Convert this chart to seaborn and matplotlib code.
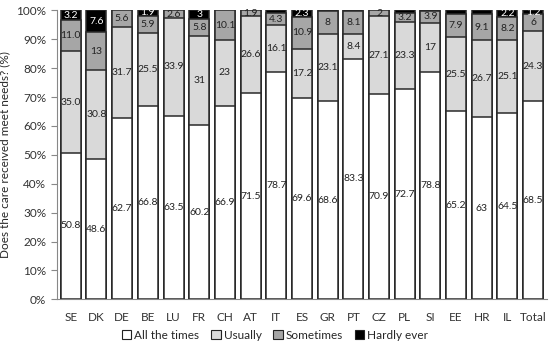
import numpy as np
import pandas as pd
import matplotlib
matplotlib.use("Agg")
import matplotlib.pyplot as plt
import seaborn as sns
from matplotlib.patches import Patch
from matplotlib.ticker import PercentFormatter

# data
countries = ['SE', 'DK', 'DE', 'BE', 'LU', 'FR', 'CH', 'AT', 'IT', 'ES',
             'GR', 'PT', 'CZ', 'PL', 'SI', 'EE', 'HR', 'IL', 'Total']
all_times = [50.8, 48.6, 62.7, 66.8, 63.5, 60.2, 66.9, 71.5, 78.7, 69.6,
             68.6, 83.3, 70.9, 72.7, 78.8, 65.2, 63, 64.5, 68.5]
usually = [35.0, 30.8, 31.7, 25.5, 33.9, 31, 23, 26.6, 16.1, 17.2,
           23.1, 8.4, 27.1, 23.3, 17, 25.5, 26.7, 25.1, 24.3]
sometimes = [11.0, 13, 5.6, 5.9, 2.6, 5.8, 10.1, 1.9, 4.3, 10.9,
             8, 8.1, 2, 3.2, 3.9, 7.9, 9.1, 8.2, 6]
hardly_ever = [3.2, 7.6, 0, 1.9, 0, 3, 0, 0, 0.9, 2.3,
               0.3, 0.2, 0, 0.8, 0.3, 1.4, 1.2, 2.2, 1.2]

# labels as printed (None = no label)
usually_lbl = ['35.0', '30.8', '31.7', '25.5', '33.9', '31', '23', '26.6', '16.1', '17.2',
               '23.1', '8.4', '27.1', '23.3', '17', '25.5', '26.7', '25.1', '24.3']
sometimes_lbl = ['11.0', '13', '5.6', '5.9', '2.6', '5.8', '10.1', '1.9', '4.3', '10.9',
                 '8', '8.1', '2', '3.2', '3.9', '7.9', '9.1', '8.2', '6']
hardly_lbl = ['3.2', '7.6', None, '1.9', None, '3', None, None, None, '2.3',
              None, None, None, None, None, None, None, '2.2', '1.2']

series = ['All the times', 'Usually', 'Sometimes', 'Hardly ever']
colors = ['white', '#d9d9d9', '#a6a6a6', 'black']

df = pd.DataFrame({'country': countries, 'All the times': all_times,
                   'Usually': usually, 'Sometimes': sometimes,
                   'Hardly ever': hardly_ever})
cum = df[series].cumsum(axis=1)

sns.set_style('white')
plt.rcParams['font.family'] = ['Lato', 'DejaVu Sans']

fig, ax = plt.subplots(figsize=(5.5, 3.48), dpi=100)

# stacked bars drawn as overlapping cumulative bars, top layer first
for s, c in zip(series[::-1], colors[::-1]):
    sns.barplot(x=df['country'], y=cum[s], color=c, edgecolor='#2a2a2a',
                linewidth=1.1, width=0.78, ax=ax, saturation=1)

# segment labels
lo = cum.shift(1, axis=1).fillna(0)
lbls = {'All the times': [f'{v:g}' for v in all_times], 'Usually': usually_lbl,
        'Sometimes': sometimes_lbl, 'Hardly ever': hardly_lbl}
for s in series:
    for i, t in enumerate(lbls[s]):
        if t is None:
            continue
        y = (lo.loc[i, s] + cum.loc[i, s]) / 2
        col = 'white' if s == 'Hardly ever' else '#222222'
        ax.text(i, y, t, ha='center', va='center', fontsize=7.5, color=col)

ax.set_ylim(0, 100)
ax.set_xlim(-0.55, len(countries) - 0.45)
ax.set_yticks(np.arange(0, 101, 10))
ax.yaxis.set_major_formatter(PercentFormatter(decimals=0))
ax.set_xlabel('')
ax.set_ylabel('Does the care received meet needs? (%)', fontsize=8.5)
ax.tick_params(axis='both', labelsize=8.5, colors='#333333')
ax.tick_params(axis='y', left=True, length=4, color='#888888')
ax.tick_params(axis='x', bottom=False, pad=6)
sns.despine(ax=ax)
for sp in ['left', 'bottom']:
    ax.spines[sp].set_color('#888888')

handles = [Patch(facecolor=c, edgecolor='#222222', linewidth=0.8) for c in colors]
fig.legend(handles, series, loc='lower center', bbox_to_anchor=(0.5, -0.01),
           ncol=4, frameon=False, fontsize=8.5, handlelength=0.8, handleheight=0.8,
           handletextpad=0.25, columnspacing=1.0)

fig.subplots_adjust(left=0.103, right=0.995, top=0.97, bottom=0.14)
fig.savefig('out.png', dpi=100)
